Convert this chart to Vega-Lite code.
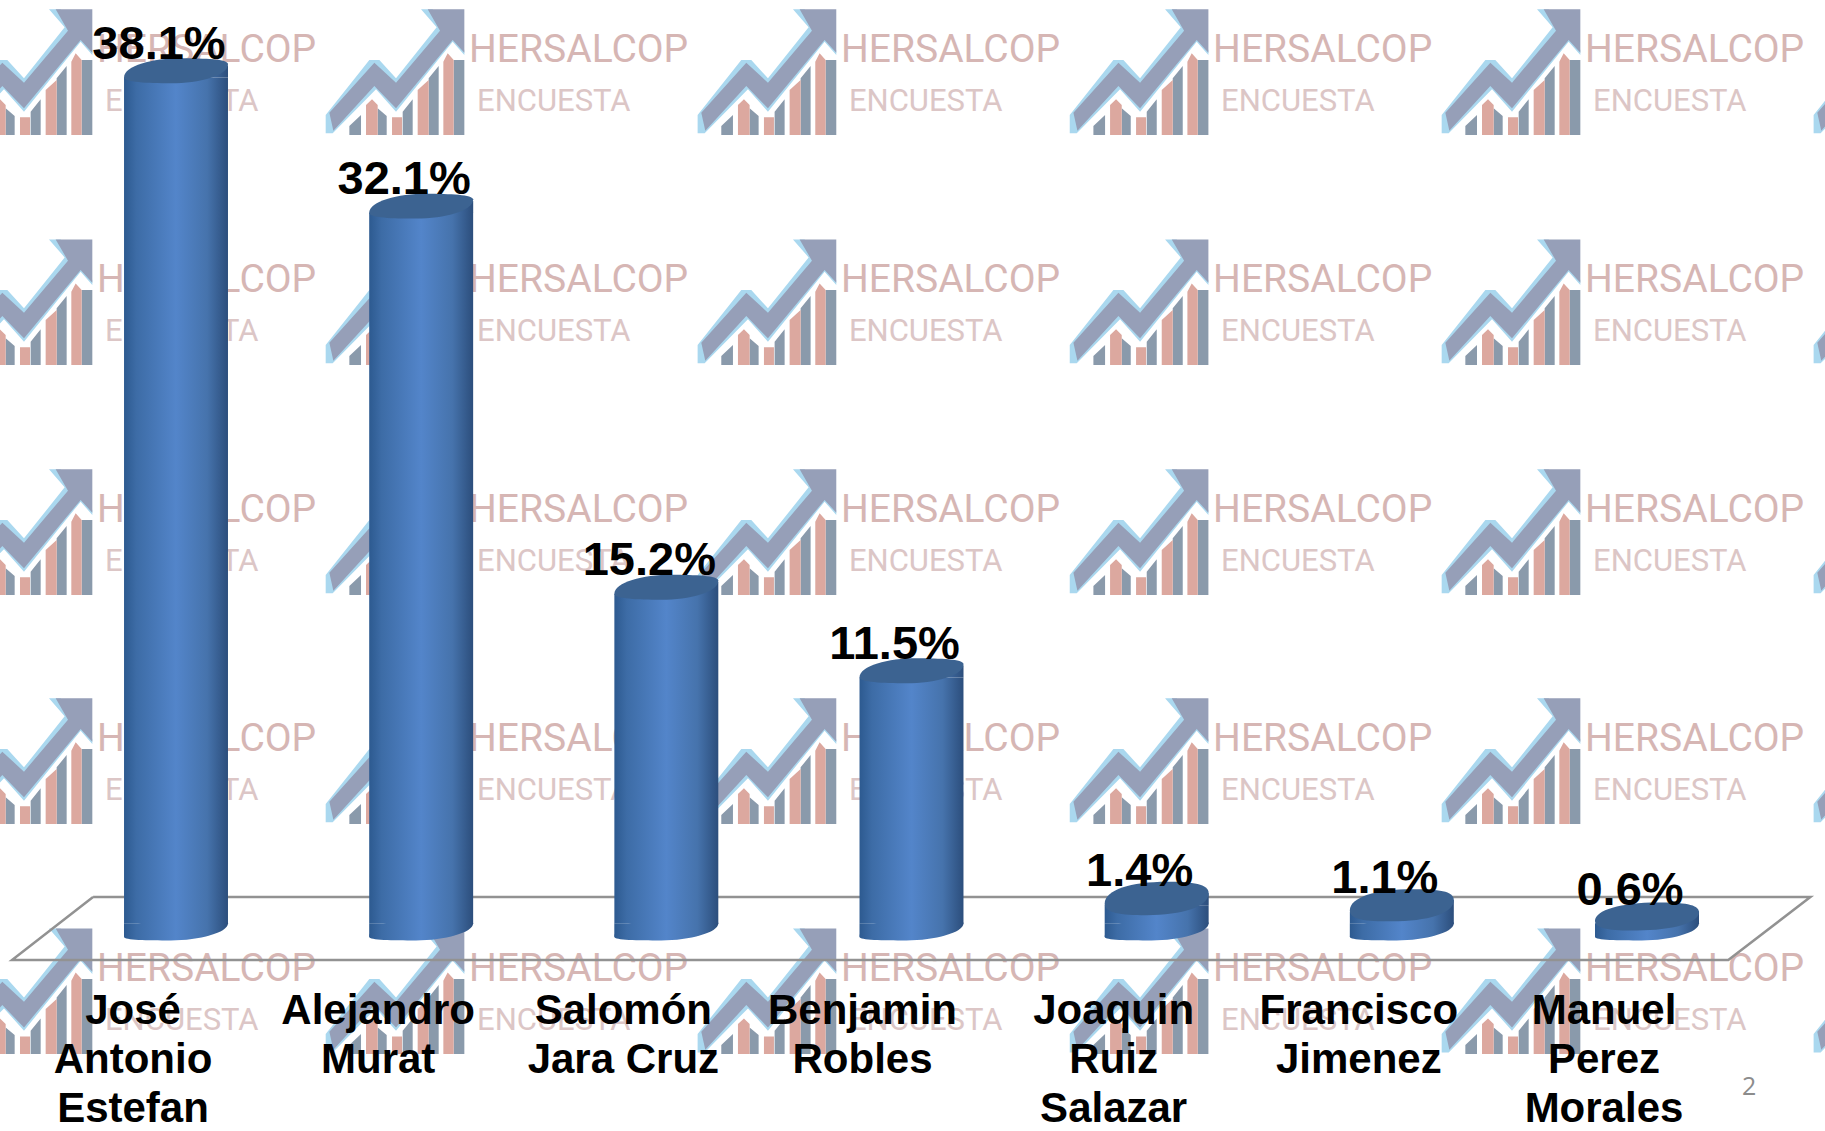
{"$schema":"https://vega.github.io/schema/vega-lite/v6.json","width":1825,"height":1131,"autosize":{"type":"none"},"padding":0,"background":"#ffffff","view":{"stroke":null},
"datasets":{
"tiles":[{"col":-1.425,"row":0},{"col":18.96,"row":0},{"col":39.34,"row":0},{"col":59.73,"row":0},{"col":80.11,"row":0},{"col":100.49,"row":0},
{"col":-1.425,"row":20.34},{"col":18.96,"row":20.34},{"col":39.34,"row":20.34},{"col":59.73,"row":20.34},{"col":80.11,"row":20.34},{"col":100.49,"row":20.34},
{"col":-1.425,"row":40.67},{"col":18.96,"row":40.67},{"col":39.34,"row":40.67},{"col":59.73,"row":40.67},{"col":80.11,"row":40.67},{"col":100.49,"row":40.67},
{"col":-1.425,"row":60.92},{"col":18.96,"row":60.92},{"col":39.34,"row":60.92},{"col":59.73,"row":60.92},{"col":80.11,"row":60.92},{"col":100.49,"row":60.92},
{"col":-1.425,"row":81.26},{"col":18.96,"row":81.26},{"col":39.34,"row":81.26},{"col":59.73,"row":81.26},{"col":80.11,"row":81.26},{"col":100.49,"row":81.26}],
"floor":[{"col":5.1,"row":79.31,"o":0},{"col":99.2,"row":79.31,"o":1},{"col":94.7,"row":84.88,"o":2},{"col":0.66,"row":84.88,"o":3},{"col":5.1,"row":79.31,"o":4}],
"results":[
{"candidate":"José\nAntonio\nEstefan","value":0.381},
{"candidate":"Alejandro\nMurat","value":0.321},
{"candidate":"Salomón\nJara Cruz","value":0.152},
{"candidate":"Benjamin\nRobles","value":0.115},
{"candidate":"Joaquin\nRuiz\nSalazar","value":0.014},
{"candidate":"Francisco\nJimenez","value":0.011},
{"candidate":"Manuel\nPerez\nMorales","value":0.006}]
},
"resolve":{"scale":{"x":"independent","y":"independent"}},
"layer":[
{"data":{"name":"tiles"},
"encoding":{"x":{"field":"col","type":"quantitative","axis":null,"scale":{"domain":[0,100],"nice":false,"zero":false}},
"y":{"field":"row","type":"quantitative","axis":null,"scale":{"domain":[0,100],"reverse":true,"nice":false,"zero":false}}},
"layer":[
{"mark":{"type":"point","filled":true,"opacity":1,"size":0.4444,"fill":"#aad8ef","shape":"M-61,345 L70,180 L100,180 L150,235 L272,82 L225,28 L260,28 L355,150 L355,165 L320,125 L150,335 L90,268 L-40,400 L-61,400 Z"}},
{"mark":{"type":"point","filled":true,"opacity":1,"size":0.4444,"fill":"#969fb8","shape":"M-50,338 L85,188 L150,248 L282,92 L245,28 L355,28 L355,158 L320,120 L150,325 L85,258 L-38,392 Z"}},
{"mark":{"type":"point","filled":true,"opacity":1,"size":0.4444,"fill":"#8a9aab","shape":"M10,405 L10,378 L45,345 L45,405Z M95,405 L95,325 L122,348 L122,405Z M170,405 L170,335 L200,298 L200,405Z M248,405 L248,235 L278,198 L278,405Z M323,405 L323,180 L355,180 L355,405Z"}},
{"mark":{"type":"point","filled":true,"opacity":1,"size":0.4444,"fill":"#dca89f","shape":"M60,405 L60,315 L78,298 L95,315 L95,405Z M138,405 L138,352 L168,352 L168,405Z M215,405 L215,270 L248,240 L248,405Z M292,405 L292,185 L305,160 L323,180 L323,405Z"}},
{"transform":[{"filter":"datum.col < 100"}],"mark":{"type":"text","text":"HERSALCOP","font":"Roboto","fontSize":39,"align":"left","baseline":"alphabetic","dx":123,"dy":62,"color":"#d6b6b4"}},
{"transform":[{"filter":"datum.col < 100"}],"mark":{"type":"text","text":"ENCUESTA","font":"Roboto","fontSize":31,"align":"left","baseline":"alphabetic","dx":131,"dy":111,"color":"#dcc6c6"}}
]},
{"data":{"name":"floor"},
"mark":{"type":"line","color":"#929292","strokeWidth":2.5},
"encoding":{"x":{"field":"col","type":"quantitative","axis":null,"scale":{"domain":[0,100],"nice":false,"zero":false}},
"y":{"field":"row","type":"quantitative","axis":null,"scale":{"domain":[0,100],"reverse":true,"nice":false,"zero":false}},
"order":{"field":"o"}}},
{"data":{"values":[{"col":95.85,"row":96.1,"page":"2"}]},
"mark":{"type":"text","font":"Open Sans","fontSize":25,"color":"#8c8c8c"},
"encoding":{"x":{"field":"col","type":"quantitative","axis":null,"scale":{"domain":[0,100],"nice":false,"zero":false}},
"y":{"field":"row","type":"quantitative","axis":null,"scale":{"domain":[0,100],"reverse":true,"nice":false,"zero":false}},
"text":{"field":"page"}}},
{"data":{"name":"results"},
"encoding":{"x":{"field":"candidate","type":"nominal","sort":null,"axis":null,"scale":{"type":"band","domain":["José\nAntonio\nEstefan","Alejandro\nMurat","Salomón\nJara Cruz","Benjamin\nRobles","Joaquin\nRuiz\nSalazar","Francisco\nJimenez","Manuel\nPerez\nMorales"],"range":[-1,1824],"paddingInner":0.576,"paddingOuter":0.51}},
"y":{"field":"value","type":"quantitative","axis":null,"scale":{"domain":[-0.0891,0.4124],"nice":false,"zero":false}}},
"layer":[
{"mark":{"type":"point","filled":true,"opacity":1,"size":10816,"shape":"M-1,.13 C-1,-.1 -.45,-.24 .1,-.24 C.55,-.24 1,-.22 1,-.13 C1,.05 .45,.2 -.1,.2 C-.55,.2 -1,.2 -1,.13 Z","fill":{"x1":0,"y1":0,"x2":1,"y2":0,"gradient":"linear","stops":[{"offset":0,"color":"#2d5a90"},{"offset":0.12,"color":"#3d6ca6"},{"offset":0.5,"color":"#5385ca"},{"offset":0.8,"color":"#4673ac"},{"offset":1,"color":"#2c4e7c"}]}},
"encoding":{"y":{"datum":0}}},
{"mark":{"type":"point","filled":true,"opacity":1,"size":10816,"shape":"M-1,-.13 L1,-.13 L-1,.13 Z","fill":{"x1":0,"y1":0,"x2":1,"y2":0,"gradient":"linear","stops":[{"offset":0,"color":"#2d5a90"},{"offset":0.12,"color":"#3d6ca6"},{"offset":0.5,"color":"#5385ca"},{"offset":0.8,"color":"#4673ac"},{"offset":1,"color":"#2c4e7c"}]}},
"encoding":{"y":{"datum":0}}},
{"mark":{"type":"bar","yOffset":6.7,"y2Offset":-6.7,"color":{"x1":0,"y1":0,"x2":1,"y2":0,"gradient":"linear","stops":[{"offset":0,"color":"#2d5a90"},{"offset":0.12,"color":"#3d6ca6"},{"offset":0.5,"color":"#5385ca"},{"offset":0.8,"color":"#4673ac"},{"offset":1,"color":"#2c4e7c"}]}},
"encoding":{"y2":{"datum":0}}},
{"mark":{"type":"point","filled":true,"opacity":1,"size":10816,"shape":"M-1,.13 L1,-.1 L1,.13 Z","fill":{"x1":0,"y1":0,"x2":1,"y2":0,"gradient":"linear","stops":[{"offset":0,"color":"#2d5a90"},{"offset":0.12,"color":"#3d6ca6"},{"offset":0.5,"color":"#5385ca"},{"offset":0.8,"color":"#4673ac"},{"offset":1,"color":"#2c4e7c"}]}}},
{"mark":{"type":"point","filled":true,"opacity":1,"size":10816,"fill":"#3c6391"},
"encoding":{"shape":{"field":"candidate","type":"nominal","sort":null,"legend":null,"scale":{"domain":["José\nAntonio\nEstefan","Alejandro\nMurat","Salomón\nJara Cruz","Benjamin\nRobles","Joaquin\nRuiz\nSalazar","Francisco\nJimenez","Manuel\nPerez\nMorales"],"range":["M-1,.13 C-1,-.1 -.45,-.24 .1,-.24 C.55,-.24 1,-.22 1,-.13 C1,.1 .45,.24 -.1,.24 C-.55,.24 -1,.22 -1,.13 Z","M-1,.13 C-1,-.1 -.45,-.24 .1,-.24 C.55,-.24 1,-.22 1,-.13 C1,.1 .45,.24 -.1,.24 C-.55,.24 -1,.22 -1,.13 Z","M-1,.13 C-1,-.1 -.45,-.24 .1,-.24 C.55,-.24 1,-.22 1,-.13 C1,.1 .45,.24 -.1,.24 C-.55,.24 -1,.22 -1,.13 Z","M-1,.13 C-1,-.1 -.45,-.24 .1,-.24 C.55,-.24 1,-.22 1,-.13 C1,.1 .45,.24 -.1,.24 C-.55,.24 -1,.22 -1,.13 Z","M-1,.1 C-1,-.16 -.5,-.32 .2,-.32 C.7,-.32 1,-.28 1,-.1 C1,.16 .5,.32 -.2,.32 C-.7,.32 -1,.28 -1,.1 Z","M-1,.1 C-1,-.16 -.5,-.31 .2,-.31 C.7,-.31 1,-.28 1,-.1 C1,.16 .5,.31 -.2,.31 C-.7,.31 -1,.28 -1,.1 Z","M-1,.08 C-1,-.12 -.5,-.27 .2,-.27 C.7,-.27 1,-.24 1,-.08 C1,.12 .5,.27 -.2,.27 C-.7,.27 -1,.24 -1,.08 Z"]}}}},
{"mark":{"type":"text","font":"Liberation Sans","fontWeight":"bold","fontSize":47,"color":"#000000","baseline":"alphabetic","dx":-17,"dy":-12},
"encoding":{"text":{"field":"value","type":"quantitative","format":".1%"}}},
{"transform":[{"filter":"datum.candidate !== 'Benjamin\\nRobles'"}],
"mark":{"type":"text","font":"Liberation Sans","fontWeight":"bold","fontSize":42,"color":"#000000","baseline":"alphabetic","lineBreak":"\n","lineHeight":49,"dx":-43,"dy":1},
"encoding":{"y":{"datum":-0.04124},"text":{"field":"candidate"}}},
{"transform":[{"filter":"datum.candidate === 'Benjamin\\nRobles'"}],
"mark":{"type":"text","font":"Liberation Sans","fontWeight":"bold","fontSize":42,"color":"#000000","baseline":"alphabetic","lineBreak":"\n","lineHeight":49,"dx":-49,"dy":1},
"encoding":{"y":{"datum":-0.04124},"text":{"field":"candidate"}}}
]}
]}
